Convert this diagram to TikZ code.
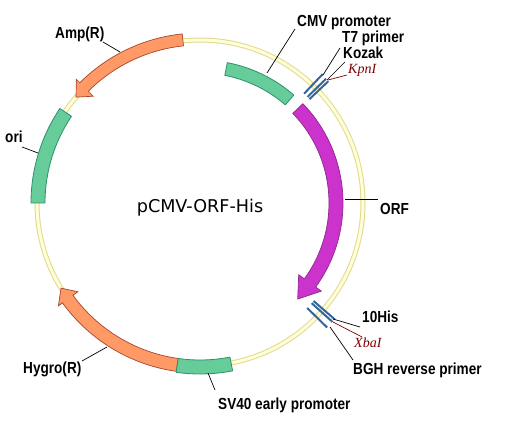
\documentclass[tikz,border=0pt]{standalone}
\usepackage{fontspec}
\newfontfamily\lblfont[FakeStretch=0.85]{Liberation Sans}
\newfontfamily\enzfont{Liberation Serif}
\newfontfamily\titlefont{DejaVu Sans}
\definecolor{ringedge}{HTML}{E2D894}
\definecolor{ringfill}{HTML}{FFFFD6}
\definecolor{featgreen}{HTML}{66CC99}
\definecolor{greenedge}{HTML}{2F8F6F}
\definecolor{featorange}{HTML}{FF9966}
\definecolor{orangeedge}{HTML}{A8452E}
\definecolor{featmag}{HTML}{CC33CC}
\definecolor{magedge}{HTML}{8E2A8E}
\definecolor{tickblue}{HTML}{336699}
\definecolor{enzred}{HTML}{800000}
\tikzset{
  gbox/.style={fill=featgreen, draw=greenedge, line width=0.8pt, line join=round},
  oarrow/.style={fill=featorange, draw=orangeedge, line width=0.7pt, line join=miter},
  marrow/.style={fill=featmag, draw=magedge, line width=0.7pt, line join=miter},
  sitetick/.style={draw=tickblue, line width=2pt},
  lbl/.style={font=\lblfont\bfseries\fontsize{16}{18}\selectfont, anchor=base west, inner sep=0pt},
  enz/.style={font=\enzfont\itshape\fontsize{14}{16}\selectfont, text=enzred, anchor=base west, inner sep=0pt},
  lead/.style={draw=black, line width=0.7pt},
  enzlead/.style={draw=enzred, line width=0.7pt}
}
\begin{document}
\begin{tikzpicture}[x=1pt,y=1pt]
\useasboundingbox (-200,-232) rectangle (306,203);
\fill[white] (-200,-232) rectangle (306,203);
% backbone ring
\draw[ringedge, line width=5pt] (0,0) circle[radius=163];
\draw[ringfill, line width=3pt] (0,0) circle[radius=163];
% CMV promoter
\draw[gbox] (49:130) arc[start angle=49, end angle=79, radius=130] -- (79:143) arc[start angle=79, end angle=49, radius=143] -- cycle;
% ORF
\draw[marrow] (44:143) arc[start angle=44, end angle=-36, radius=143] -- (-36:150) -- (-44.5:137) -- (-36:122) -- (-36:129) arc[start angle=-36, end angle=44, radius=129] -- cycle;
% Amp(R)
\draw[oarrow] (96:158) arc[start angle=96, end angle=135, radius=158] -- (135:151) -- (139.5:163) -- (135:175) -- (135:170) arc[start angle=135, end angle=96, radius=170] -- cycle;
% ori
\draw[gbox] (146:155) arc[start angle=146, end angle=180, radius=155] -- (180:169) arc[start angle=180, end angle=146, radius=169] -- cycle;
% Hygro(R)
\draw[oarrow] (262:157) arc[start angle=262, end angle=216, radius=157] -- (216:151) -- (211.5:163) -- (216:175) -- (216:170) arc[start angle=216, end angle=262, radius=170] -- cycle;
% SV40 early promoter
\draw[gbox] (262:157) arc[start angle=262, end angle=281, radius=157] -- (281:171) arc[start angle=281, end angle=262, radius=171] -- cycle;
% site ticks
\draw[sitetick] (46.4:151) -- (46.4:178);
\draw[sitetick] (44.6:151) -- (44.6:177);
\draw[sitetick] (43.5:151) -- (43.5:177);
\draw[sitetick] (-40.8:150) -- (-40.8:178);
\draw[sitetick] (-41.9:150) -- (-41.9:178);
\draw[sitetick] (-44.4:150) -- (-44.4:178);
% title
\node[font=\titlefont\fontsize{17.6}{20}\selectfont, anchor=base, inner sep=0pt] (title) at (0,-10) {pCMV-ORF-His};
% labels
\node[lbl] (cmvl) at (97,176) {CMV promoter};
\node[lbl] (t7l) at (142,160) {T7 primer};
\node[lbl] (kozl) at (143,144) {Kozak};
\node[enz] (kpnl) at (148,129) {KpnI};
\node[lbl] (orfl) at (180,-12) {ORF};
\node[lbl] (hisl) at (162,-120) {10His};
\node[enz] (xbal) at (154,-145) {XbaI};
\node[lbl] (bghl) at (153,-172) {BGH reverse primer};
\node[lbl] (sv40l) at (18,-207) {SV40 early promoter};
\node[lbl] (hygl) at (-177,-171) {Hygro(R)};
\node[lbl] (oril) at (-195,60) {ori};
\node[lbl] (ampl) at (-145,164) {Amp(R)};
% leader end points
\coordinate (cmvA) at (67,130);   \coordinate (cmvB) at (95,174);
\coordinate (t7A) at (123,128);   \coordinate (t7B) at (140,155);
\coordinate (kozA) at (127,123);  \coordinate (kozB) at (145,141);
\coordinate (kpnA) at (128,123);  \coordinate (kpnB) at (147,128);
\coordinate (orfA) at (145,4);    \coordinate (orfB) at (178,4);
\coordinate (hisA) at (133,-116); \coordinate (hisB) at (160,-124);
\coordinate (xbaA) at (133,-119); \coordinate (xbaB) at (162,-134);
\coordinate (bghA) at (130,-124); \coordinate (bghB) at (153,-157);
\coordinate (svA) at (8,-170);    \coordinate (svB) at (15,-187);
\coordinate (hygA) at (-93,-144); \coordinate (hygB) at (-118,-158);
\coordinate (oriA) at (-162,50);  \coordinate (oriB) at (-178,56);
\coordinate (ampA) at (-80,151);  \coordinate (ampB) at (-97,161);
\draw[lead] (cmvA) -- (cmvB);
\draw[lead] (t7A) -- (t7B);
\draw[lead] (kozA) -- (kozB);
\draw[enzlead] (kpnA) -- (kpnB);
\draw[lead] (orfA) -- (orfB);
\draw[lead] (hisA) -- (hisB);
\draw[enzlead] (xbaA) -- (xbaB);
\draw[lead] (bghA) -- (bghB);
\draw[lead] (svA) -- (svB);
\draw[lead] (hygA) -- (hygB);
\draw[lead] (oriA) -- (oriB);
\draw[lead] (ampA) -- (ampB);
\end{tikzpicture}
\end{document}
